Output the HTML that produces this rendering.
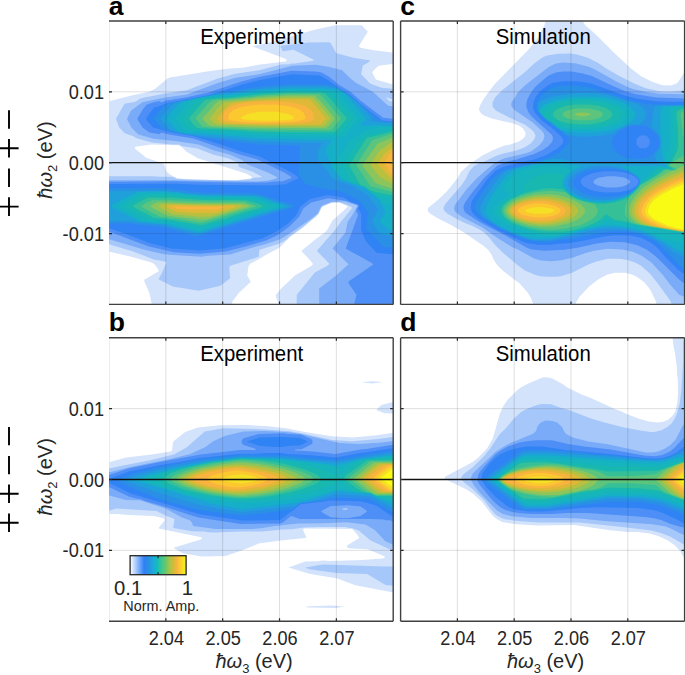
<!DOCTYPE html>
<html><head><meta charset="utf-8"><style>html,body{margin:0;padding:0;background:#fff;overflow:hidden}svg{display:block}</style></head><body>
<svg width="685" height="675" viewBox="0 0 685 675" font-family='"Liberation Sans", sans-serif'>
<rect width="685" height="675" fill="#fff"/>
<clipPath id="clipa"><rect x="109.00" y="21.00" width="284.20" height="283.40"/></clipPath>
<line x1="109.50" y1="21.00" x2="109.50" y2="304.40" stroke="#ececec" stroke-width="1"/>
<g clip-path="url(#clipa)"><path fill="#d3e3fc" fill-rule="evenodd" d="M91.2 1.5L91.2 154.8L90.8 172.5L89.8 179.8L89.5 221.8L89.8 239.5L90.8 247.2L91.5 319.2L275.2 319.2L292.8 319.5L296.2 320.2L319.8 320.5L419.8 320.5L420.5 319.8L420.8 125.5L420.2 90.5L419.5 87.2L418.8 1.2ZM100.2 251.8L109.8 251.8L130.2 256.5L152.5 262.8L154.8 264.5L158.5 269.8L158.5 271.5L144.2 279.8L144.5 281.8L149.5 293.2L152.5 308.2L152.5 310.5L151.8 311.2L100.2 311.5L99.2 310.8L98.8 264.8L99.2 252.8ZM347.5 206.2L347.5 206.8L343.5 210.8L332.5 220.5L327.5 229.5L324.8 232.5L316.2 238.8L301.8 250.5L301.8 251.5L311.2 261.5L312.8 263.5L312.8 264.5L310.8 266.2L294.8 275.5L280.2 289.5L275.5 295.5L280.8 309.5L280.2 311.2L232.8 311.5L231.5 310.5L231.2 309.2L232.5 301.2L238.5 293.2L250.8 281.8L247.2 275.5L248.5 266.2L250.2 263.8L259.8 258.8L265.2 255.2L279.5 247.8L289.8 237.2L301.5 228.8L316.2 216.5L318.8 213.8L321.2 208.5L322.8 206.5L330.8 203.2L334.8 202.5L338.8 202.5L346.2 205.2ZM134.8 147.5L136.8 146.5L151.5 144.5L178.8 145.2L182.5 147.8L186.5 151.8L197.8 158.2L246.5 173.8L250.8 176.2L252.2 177.5L250.2 178.5L235.8 180.2L194.8 179.5L176.8 178.2L170.5 174.8L166.5 171.8L164.5 165.2L163.5 163.8L146.2 157.8L134.8 148.5ZM401.2 84.8L400.2 86.2L399.2 86.2L376.5 79.8L375.2 78.5L372.2 72.2L375.2 68.8L378.8 65.8L399.2 63.2L400.5 63.5L401.5 65.2ZM98.8 101.5L98.8 9.8L99.8 8.8L400.2 8.8L401.5 10.2L401.5 51.8L399.8 53.5L373.8 50.2L360.5 47.8L359.2 46.8L359.2 45.5L367.8 31.8L361.8 25.2L335.5 25.2L316.5 29.2L293.2 35.8L280.2 40.2L252.2 46.2L285.2 58.8L286.8 60.2L286.8 60.8L285.5 61.5L258.2 64.8L242.8 67.8L227.2 68.8L208.5 71.2L169.8 77.5L167.2 78.8L155.2 88.8L149.2 91.8L132.5 95.2L101.5 103.2L99.8 103.2Z"/>
<path fill="#a6c7fa" fill-rule="evenodd" d="M419.2 91.5L412.8 90.2L401.5 89.8L381.5 87.8L372.5 84.5L369.8 83.2L361.2 74.2L362.8 65.5L368.2 62.5L370.5 60.5L353.5 57.8L337.2 53.5L335.8 52.5L330.8 43.2L329.5 42.2L308.8 42.5L281.2 45.8L280.5 46.5L282.2 50.2L283.2 51.2L293.5 49.8L312.8 59.2L313.8 60.2L313.2 60.8L294.2 63.5L290.8 63.5L289.2 64.2L281.2 64.5L259.2 70.2L235.2 73.8L217.8 78.5L186.8 90.2L166.5 93.2L143.2 97.8L140.2 98.8L135.5 101.8L124.5 103.8L116.2 118.5L116.2 119.5L119.2 127.5L124.8 133.2L133.2 136.2L137.2 138.5L152.2 142.5L171.8 144.5L179.2 144.5L180.5 145.5L184.2 146.5L197.5 148.5L212.2 154.2L228.5 158.5L237.2 162.2L238.2 163.5L238.5 166.8L252.5 171.8L261.8 176.5L261.2 177.2L253.8 177.8L250.5 179.2L236.8 180.5L184.8 179.5L176.8 178.8L174.5 177.5L171.2 176.8L160.5 176.8L152.5 176.2L91.5 176.2L90.8 176.8L90.2 180.5L89.8 188.8L89.8 223.2L90.8 242.8L91.5 243.5L108.8 243.8L110.5 244.8L132.5 251.2L153.8 259.5L165.2 261.5L166.5 262.5L161.8 273.2L158.8 278.5L158.8 279.5L172.8 286.5L198.8 290.8L220.5 285.8L230.2 278.2L229.2 267.8L230.2 265.8L258.8 256.8L259.2 250.8L259.8 249.8L279.8 243.5L286.2 239.8L289.2 236.8L303.5 226.5L315.8 216.2L318.5 213.5L321.5 207.2L322.5 206.2L331.5 202.5L339.5 202.2L351.2 206.8L351.8 207.5L351.8 208.5L340.5 222.2L334.8 230.2L316.8 250.8L329.2 263.5L329.2 264.2L326.5 266.2L314.8 272.5L296.8 294.8L296.5 309.8L297.2 319.2L346.8 320.2L419.8 320.2L420.8 135.5L419.8 118.5ZM386.2 97.8L387.2 97.5L394.5 100.5L394.8 101.2L389.5 101.2Z"/>
<path fill="#7aabf8" fill-rule="evenodd" d="M419.2 107.8L409.8 106.5L398.2 106.5L388.2 105.8L372.8 91.8L355.8 82.8L350.2 78.2L342.2 70.2L328.5 66.8L315.5 64.8L292.2 65.8L259.2 74.2L235.8 77.8L219.2 82.5L186.8 94.5L163.8 97.8L142.5 102.2L131.2 110.5L127.2 118.2L127.2 119.5L131.5 127.8L138.5 134.5L153.5 138.8L177.2 141.2L198.5 144.5L214.2 150.5L229.5 154.5L242.5 160.2L247.5 164.5L267.8 172.5L277.8 177.5L275.2 178.8L268.5 180.5L256.8 181.5L173.8 180.2L90.8 180.2L90.2 184.2L90.2 228.5L91.2 239.2L110.2 239.5L144.5 249.8L163.8 254.2L166.5 254.2L168.8 254.8L201.5 256.8L208.5 255.8L230.2 254.5L256.2 246.5L264.5 244.5L280.2 239.2L288.5 234.2L311.5 218.5L317.8 213.2L320.8 206.8L322.2 205.5L331.5 201.8L344.5 201.5L356.5 205.2L357.2 206.5L352.5 214.8L347.5 222.2L345.5 232.5L332.5 248.5L348.5 264.2L335.8 275.8L319.2 288.5L319.2 303.2L319.8 305.5L319.8 314.5L320.5 318.8L343.5 319.2L349.2 319.8L419.5 319.8L420.5 208.5L420.5 126.8L419.5 121.2Z"/>
<path fill="#4d8ff6" fill-rule="evenodd" d="M90.8 181.8L90.2 190.2L90.2 221.8L90.8 230.8L91.5 231.5L109.5 231.8L148.2 246.2L173.8 252.2L199.8 253.8L225.5 251.5L245.5 246.5L266.2 240.5L277.2 235.2L289.2 226.8L299.2 216.8L303.2 208.8L304.8 207.2L311.2 202.5L327.8 198.2L345.8 200.8L357.8 204.8L358.2 206.2L355.8 210.5L357.8 214.2L357.8 215.8L345.8 248.2L346.8 249.2L372.2 263.2L373.2 264.5L348.2 281.8L349.2 284.2L356.5 294.8L351.5 315.5L351.2 318.8L418.8 318.8L419.2 259.8L419.8 255.5L420.5 196.2L420.5 129.2L419.5 122.8L418.2 121.8L411.8 120.8L383.2 117.8L361.2 101.2L350.5 91.8L338.8 84.8L329.8 77.2L321.5 72.5L315.2 71.5L291.8 70.8L260.2 76.8L241.5 81.5L207.5 92.8L185.8 97.5L166.5 100.5L161.8 102.2L160.8 102.2L159.8 101.2L155.5 101.8L146.5 104.8L142.8 109.5L137.5 118.2L137.5 119.5L142.8 127.8L149.5 132.5L159.8 134.2L160.8 132.8L162.5 132.8L167.5 134.2L193.2 138.5L240.5 154.8L257.5 159.5L285.5 173.2L291.8 177.2L290.8 178.2L282.5 181.2L274.2 181.5L266.5 182.5L216.2 182.2L176.5 181.2Z"/>
<path fill="#2f83f4" fill-rule="evenodd" d="M419.8 125.2L418.2 124.2L382.2 120.5L361.5 104.8L350.2 94.8L338.5 87.8L327.2 79.5L319.8 75.5L292.2 74.2L261.2 79.8L243.5 84.2L208.2 95.2L166.2 103.2L161.2 105.5L153.8 107.8L146.2 118.2L146.8 120.2L153.2 127.5L170.8 132.2L194.2 136.2L200.5 138.5L210.8 141.2L241.8 151.8L259.5 156.5L287.8 170.5L296.5 175.8L298.5 177.8L297.5 178.8L285.5 184.2L268.8 185.5L197.5 184.8L176.5 183.8L91.8 184.2L91.2 184.5L90.5 189.5L90.5 222.5L91.2 228.2L109.8 228.5L126.5 234.2L150.2 243.2L171.5 248.5L199.8 250.5L225.2 248.2L262.5 238.2L276.5 231.5L288.2 223.2L296.2 215.2L300.5 206.5L309.8 199.2L326.2 195.2L329.2 195.2L343.5 197.5L351.5 202.2L358.8 204.8L359.2 205.8L357.8 208.2L360.5 212.2L361.2 214.2L361.2 230.2L365.5 240.8L376.5 252.8L392.2 254.2L418.2 255.2L419.2 254.8L419.8 249.8L420.5 137.8Z"/>
<path fill="#2a90e5" fill-rule="evenodd" d="M90.8 189.8L90.8 222.2L91.8 223.2L129.5 223.5L153.5 226.5L159.8 226.8L167.5 228.2L194.8 236.2L199.5 235.5L222.5 228.8L231.2 225.8L255.8 218.8L258.8 217.5L270.2 214.5L278.5 211.5L290.8 208.2L294.5 206.5L294.5 205.8L289.2 203.5L282.5 201.8L267.2 196.5L255.5 193.2L201.5 192.5L166.2 188.2L94.2 188.2L92.2 188.5ZM153.5 118.5L158.2 124.2L163.8 129.5L180.5 133.5L192.5 135.2L201.5 137.8L228.2 140.8L235.8 142.2L250.5 143.2L258.5 144.5L298.8 145.8L299.8 147.5L298.5 173.8L299.2 175.5L305.2 183.8L320.5 188.2L340.8 191.2L358.5 200.2L368.2 212.2L366.2 227.2L366.8 228.8L383.2 246.8L414.8 249.8L419.2 249.5L419.8 240.5L419.8 200.2L420.5 173.2L420.2 127.5L419.5 125.2L389.5 121.8L384.5 121.8L381.8 121.2L377.5 118.5L362.8 106.8L349.2 94.8L342.8 90.8L333.2 85.5L322.5 84.2L288.8 84.2L280.8 85.2L273.5 85.2L248.2 88.2L229.5 91.5L224.5 91.5L220.2 92.2L209.2 95.5L199.2 97.2L179.8 101.5L174.2 102.2L173.2 102.8L166.5 104.2L159.8 110.8Z"/>
<path fill="#1fa0da" fill-rule="evenodd" d="M91.5 220.8L130.2 221.2L136.8 222.5L162.2 224.8L196.5 233.5L199.2 233.5L204.2 232.5L218.2 227.8L287.2 207.5L289.8 206.2L288.2 205.2L275.8 201.5L266.8 198.2L260.2 196.2L255.8 195.5L203.8 194.8L185.5 193.2L180.2 192.2L172.8 191.8L167.5 190.8L92.2 191.5L91.5 191.8L91.2 200.5ZM160.5 118.5L166.5 125.8L171.2 130.5L179.5 132.8L193.8 135.2L255.5 141.2L305.8 142.8L321.2 142.8L322.2 143.5L317.8 150.8L317.8 156.5L318.5 160.8L325.2 168.5L332.5 178.8L352.2 185.8L368.2 195.5L377.8 209.2L377.5 210.8L372.5 220.5L372.5 221.8L378.5 231.8L380.5 233.5L413.5 240.8L417.5 241.5L419.2 241.2L419.5 208.5L420.2 195.8L420.2 129.5L419.8 126.8L418.8 125.5L371.5 121.2L370.8 119.8L371.8 118.5L369.8 115.8L358.2 103.5L348.5 95.2L337.2 88.2L323.5 86.5L287.8 86.5L284.2 87.2L277.2 87.2L255.5 89.2L229.2 93.2L223.2 93.2L213.5 94.5L209.5 95.8L200.8 97.2L174.5 102.8L169.2 108.2Z"/>
<path fill="#15b0c8" fill-rule="evenodd" d="M111.2 205.8L111.8 207.2L120.2 211.8L139.8 221.5L160.5 223.8L165.2 223.8L199.2 232.2L260.8 213.5L265.5 212.5L271.8 210.2L275.5 209.5L284.8 206.2L277.2 203.2L274.8 202.8L259.5 197.5L253.8 196.2L203.2 195.5L187.5 194.2L179.2 192.8L171.8 192.5L166.2 191.5L137.8 191.8L120.2 200.5ZM166.8 118.5L174.2 127.5L177.2 130.5L180.5 132.5L192.2 133.5L201.8 133.5L212.5 134.8L218.8 134.8L232.8 136.5L239.2 136.5L259.8 138.5L283.2 138.8L293.8 139.5L330.8 139.8L331.2 141.2L326.2 148.8L325.5 150.8L328.2 158.5L332.8 168.8L341.8 179.8L364.8 188.2L379.2 199.8L385.2 211.5L385.2 213.2L380.5 220.2L380.2 221.8L388.8 229.8L418.8 232.5L419.2 208.2L420.2 190.5L420.2 134.8L419.5 126.8L372.8 125.2L361.2 125.8L361.2 124.5L365.2 119.8L365.8 118.5L344.5 93.8L342.8 92.2L339.2 90.2L336.8 89.5L330.8 89.5L323.8 88.5L286.8 88.5L269.8 90.2L263.2 90.2L253.8 91.2L249.5 92.2L243.5 92.5L239.2 93.5L233.5 93.8L229.2 94.8L222.5 94.8L206.8 96.5L192.5 99.2L186.2 101.2L182.8 101.5L180.8 102.5L175.8 107.5Z"/>
<path fill="#16b4bd" fill-rule="evenodd" d="M117.5 206.2L120.8 208.5L142.8 220.2L151.8 221.5L156.8 221.5L167.5 222.8L182.8 226.5L189.5 227.5L199.2 230.2L277.8 206.5L277.8 205.8L252.5 197.5L203.5 196.8L166.5 193.5L144.8 193.5L139.2 194.2L120.8 203.8ZM349.8 140.2L339.5 155.8L334.2 167.2L334.5 168.8L343.2 179.5L349.2 181.5L352.2 183.2L364.5 187.2L374.8 195.5L379.5 198.5L382.2 202.8L392.2 205.2L396.8 205.2L399.5 205.8L417.5 206.2L419.2 205.5L420.2 183.2L420.2 141.2L419.8 128.8L419.2 127.2L382.2 126.8L365.2 130.2ZM358.8 118.2L337.2 93.2L333.8 91.5L323.8 90.5L287.5 90.5L260.5 92.2L249.8 93.8L232.5 95.5L230.2 96.2L210.2 97.2L199.5 98.2L193.5 99.5L190.2 100.8L186.2 104.8L175.2 117.5L174.8 118.8L179.8 125.2L183.8 129.2L187.5 131.2L204.2 131.5L207.5 132.2L228.8 133.2L232.5 133.8L238.5 133.8L241.8 134.5L263.8 135.8L342.8 136.8L344.5 135.8L358.5 119.5Z"/>
<path fill="#18b8b0" fill-rule="evenodd" d="M124.8 206.2L133.8 211.8L147.8 218.8L150.8 219.5L159.8 219.8L167.5 220.8L192.2 225.5L198.5 227.2L202.2 227.2L208.8 225.5L211.5 224.2L218.8 222.5L239.2 215.8L246.5 214.2L249.2 212.8L265.2 208.5L270.5 206.2L266.5 204.2L264.2 203.8L262.5 202.8L257.8 201.8L248.2 198.5L198.8 197.8L195.8 197.2L186.5 196.8L183.5 196.2L178.5 196.2L175.5 195.5L165.5 194.8L144.5 195.2L133.8 200.5ZM419.5 128.2L412.5 127.8L393.5 129.5L366.8 135.2L364.5 136.2L356.8 143.8L342.8 165.5L351.2 181.5L352.5 182.5L354.5 182.8L365.2 187.2L376.8 195.8L392.5 198.2L418.8 199.2L419.8 193.2L420.2 146.2ZM352.8 118.5L348.2 112.5L331.2 93.5L328.5 92.2L322.8 91.5L287.8 91.5L270.5 92.5L266.8 93.2L261.2 93.2L229.2 97.2L217.8 97.5L199.2 99.2L195.5 102.2L181.8 118.2L183.5 121.2L189.5 127.8L193.5 129.5L246.5 132.2L255.5 133.2L284.5 133.8L338.2 133.8L341.2 132.2Z"/>
<path fill="#35c098" fill-rule="evenodd" d="M132.8 206.2L135.5 208.2L153.8 217.8L173.8 220.2L179.2 221.5L191.8 223.2L198.8 224.8L203.2 224.8L221.5 219.2L226.2 218.2L234.2 215.2L257.8 208.5L263.5 206.2L257.2 203.5L245.8 200.2L198.8 199.8L171.8 197.8L147.5 197.8L135.5 204.2ZM419.2 129.5L418.2 129.2L393.2 131.2L366.5 138.2L349.5 164.8L349.5 165.8L359.5 183.8L361.2 185.2L365.2 186.5L370.5 190.5L376.8 192.2L392.5 195.2L418.8 196.2L419.8 189.8L419.8 135.5ZM346.8 118.5L329.8 98.2L324.8 93.5L320.8 92.5L287.5 92.5L260.8 94.2L230.5 97.8L219.8 98.2L206.8 99.5L204.5 100.2L188.8 118.5L193.2 124.2L196.5 127.5L201.2 128.5L232.8 129.8L257.2 131.5L289.5 132.2L333.5 132.2L336.5 130.8Z"/>
<path fill="#5cc47c" fill-rule="evenodd" d="M141.2 206.2L143.2 207.8L151.5 212.5L157.5 215.2L159.8 216.8L165.2 217.2L171.5 218.5L174.8 218.5L199.5 222.5L202.2 222.5L209.2 220.8L255.8 206.5L255.8 205.8L243.5 201.8L209.2 201.8L170.8 200.2L152.2 200.2L145.5 203.2ZM418.8 131.5L393.5 133.2L373.2 139.8L371.5 141.2L356.5 164.5L356.5 165.8L370.5 186.2L392.8 192.2L415.8 193.2L419.2 192.8L419.8 184.5L419.8 139.8ZM340.8 118.2L322.5 96.8L319.2 94.2L290.8 93.8L261.2 95.5L248.5 97.2L243.8 97.2L236.2 98.5L231.5 98.5L223.8 99.5L217.2 99.5L212.8 100.2L209.2 102.5L198.8 114.2L195.8 118.5L199.5 123.5L202.8 126.8L209.2 127.5L266.2 129.8L329.2 130.2L331.8 129.2L339.8 120.2Z"/>
<path fill="#8cc55c" fill-rule="evenodd" d="M150.2 206.2L153.5 208.5L166.8 215.5L183.5 217.8L189.8 218.2L191.8 218.8L195.2 218.8L197.2 219.5L206.8 219.5L249.8 206.5L249.8 205.8L243.2 203.5L192.5 203.2L167.8 202.2L157.8 202.2L152.5 204.5ZM418.8 135.2L392.8 137.2L378.5 143.2L376.8 144.8L362.5 164.8L362.8 166.2L375.8 183.2L393.5 189.2L418.5 190.2L419.2 189.5L419.8 179.5L419.8 144.8L419.5 137.5ZM334.8 118.2L322.5 103.5L314.5 95.5L287.2 95.5L258.2 97.2L248.8 98.5L237.8 99.2L235.2 99.8L219.2 100.8L214.5 104.2L210.2 109.8L203.8 116.5L202.8 118.8L203.8 120.5L209.2 125.5L213.5 126.2L257.8 127.8L325.8 128.2L330.2 124.5L334.2 119.8Z"/>
<path fill="#b8c040" fill-rule="evenodd" d="M158.8 205.8L158.8 206.5L166.5 211.2L173.2 214.2L199.2 216.8L210.8 216.5L237.8 208.5L243.5 206.2L239.2 204.5L193.2 204.5L163.2 203.8ZM419.2 138.8L416.2 138.5L395.2 140.8L391.5 142.2L379.8 150.5L370.5 164.2L370.8 165.8L380.5 177.5L393.2 184.2L418.8 185.8L419.8 172.8L419.8 152.5ZM330.8 118.5L317.5 102.5L312.2 97.5L286.8 97.5L251.8 99.5L249.2 100.2L224.8 102.2L222.2 103.8L216.8 109.5L209.8 118.5L214.2 123.5L219.5 124.8L271.8 126.2L322.8 126.2L325.2 125.2Z"/>
<path fill="#e0b838" fill-rule="evenodd" d="M166.8 205.8L167.8 207.5L176.5 211.8L197.2 213.2L216.5 212.8L221.8 210.8L231.2 208.5L236.5 206.2L232.2 205.5L198.8 205.5L172.5 204.8L168.2 205.2ZM419.2 143.8L415.2 143.5L393.2 146.2L384.5 153.8L377.8 163.2L377.5 164.5L393.2 180.2L418.8 181.2L419.5 178.5ZM325.5 118.2L313.5 103.8L309.5 99.8L308.2 99.2L283.8 99.2L247.5 101.2L231.2 103.2L224.8 108.8L217.5 118.2L217.5 118.8L221.2 122.8L222.5 123.5L262.5 124.8L309.8 124.8L320.2 124.5L322.8 122.2L325.5 118.8Z"/>
<path fill="#f8b43e" fill-rule="evenodd" d="M172.8 206.5L176.8 208.8L193.5 209.5L216.8 209.5L225.5 206.8ZM418.8 146.5L394.2 149.2L392.8 149.8L387.8 156.5L384.5 162.5L384.5 163.8L387.5 169.2L393.2 176.8L398.8 177.5L416.8 178.2L418.8 177.8L419.5 172.5L419.5 152.8ZM222.8 116.8L223.2 119.5L224.5 120.8L227.8 121.8L239.5 123.2L262.5 123.8L290.5 123.5L301.8 122.8L311.2 121.2L312.5 120.5L314.2 118.2L312.8 112.5L311.5 110.5L309.2 108.2L304.8 105.8L296.2 103.2L280.2 101.5L261.5 101.5L247.5 102.5L237.2 104.2L231.5 106.2L226.8 109.2L224.5 111.8Z"/>
<path fill="#fcc830" fill-rule="evenodd" d="M418.5 154.2L393.8 156.8L390.8 162.2L393.5 170.2L397.8 170.8L418.2 171.5ZM228.2 117.5L228.2 118.5L229.2 119.5L234.8 120.8L247.2 122.2L259.5 122.5L286.5 122.2L294.8 121.5L303.8 119.8L305.5 118.2L304.8 115.2L303.5 112.8L300.8 110.5L297.5 108.8L289.8 106.5L277.5 104.8L257.2 104.8L243.8 106.5L237.2 108.5L232.8 110.5L229.5 113.5Z"/>
<path fill="#f5e025" fill-rule="evenodd" d="M241.2 117.8L241.8 118.8L244.2 119.5L262.2 120.8L285.2 120.2L292.8 119.2L294.2 118.2L293.5 116.8L290.2 114.8L284.2 113.2L275.2 111.8L260.5 111.8L252.8 112.8L246.2 114.5L241.8 116.8Z"/></g>
<g stroke="#262626" stroke-opacity="0.15" stroke-width="1"><line x1="165.84" y1="21.00" x2="165.84" y2="304.40"/><line x1="222.68" y1="21.00" x2="222.68" y2="304.40"/><line x1="279.52" y1="21.00" x2="279.52" y2="304.40"/><line x1="336.36" y1="21.00" x2="336.36" y2="304.40"/><line x1="109.00" y1="91.85" x2="393.20" y2="91.85"/><line x1="109.00" y1="233.55" x2="393.20" y2="233.55"/></g>
<line x1="109.00" y1="162.70" x2="393.20" y2="162.70" stroke="#111" stroke-width="1.3"/>
<path d="M165.84 21.00V24.00M165.84 304.40V301.40M222.68 21.00V24.00M222.68 304.40V301.40M279.52 21.00V24.00M279.52 304.40V301.40M336.36 21.00V24.00M336.36 304.40V301.40M109.00 91.85H112.00M393.20 91.85H390.20M109.00 162.70H112.00M393.20 162.70H390.20M109.00 233.55H112.00M393.20 233.55H390.20" stroke="#262626" stroke-width="1.2" fill="none"/>
<path d="M109.00 21.00H393.20M109.00 304.40H393.20M393.20 21.00V304.40" stroke="#404040" stroke-width="1.4" fill="none"/>
<text transform="translate(251.70 44.40) scale(0.934 1)" font-size="21.8" text-anchor="middle" fill="#000">Experiment</text>
<text transform="translate(104.00 98.85) scale(0.886 1)" font-size="20.5" text-anchor="end" fill="#262626">0.01</text>
<text transform="translate(104.00 169.70) scale(0.886 1)" font-size="20.5" text-anchor="end" fill="#262626">0.00</text>
<text transform="translate(104.00 240.55) scale(0.886 1)" font-size="20.5" text-anchor="end" fill="#262626">-0.01</text>
<clipPath id="clipb"><rect x="109.00" y="337.80" width="284.20" height="283.40"/></clipPath>
<line x1="109.50" y1="337.80" x2="109.50" y2="621.20" stroke="#ececec" stroke-width="1"/>
<g clip-path="url(#clipb)"><path fill="#d3e3fc" fill-rule="evenodd" d="M344.2 606.6L332.2 605.6L309.2 606.3L304.8 607.0L308.5 607.6L336.2 608.0ZM100.8 462.0L99.8 472.3L99.8 495.6L100.5 513.3L101.2 514.0L117.2 514.0L128.5 515.0L153.8 516.0L164.2 518.6L164.8 520.3L158.5 528.0L158.8 528.6L201.2 537.3L202.2 538.3L200.8 539.6L174.2 547.6L174.2 548.3L182.5 553.3L201.5 556.6L225.5 556.0L242.2 550.3L258.5 543.6L282.8 540.3L305.5 538.0L306.2 537.6L306.2 537.0L303.2 530.3L303.2 529.3L304.5 528.6L352.2 529.0L356.8 534.0L359.2 537.6L358.5 538.6L347.5 545.3L346.8 546.3L347.8 548.0L351.8 548.6L367.8 549.3L384.2 556.3L384.8 557.0L384.5 558.0L382.8 558.6L362.2 560.0L330.5 561.0L322.5 560.6L317.5 561.3L305.2 561.6L288.5 567.6L310.2 574.0L336.5 578.3L355.5 585.3L392.2 592.3L418.8 599.3L419.5 599.0L419.5 592.0L420.2 588.6L420.2 567.0L419.5 563.6L419.5 554.0L420.5 546.3L420.8 451.6L420.5 440.3L419.5 432.0L391.5 433.0L376.8 435.3L352.5 437.6L331.8 436.3L306.5 432.3L287.5 428.6L268.2 426.3L245.5 425.0L219.5 425.3L197.8 427.6L185.2 432.0L173.5 441.3L172.8 443.3L172.2 450.3L170.8 451.6L151.8 454.6L126.2 457.6L109.8 462.0ZM419.2 401.3L392.5 402.3L381.2 405.0L376.2 410.0L384.5 413.3L419.2 414.3ZM361.2 382.6L372.8 383.6L382.5 382.0L371.2 381.3Z"/>
<path fill="#a6c7fa" fill-rule="evenodd" d="M305.5 567.6L307.2 568.6L310.8 569.6L336.5 573.0L367.2 574.0L385.5 585.0L414.8 587.6L419.2 587.3L419.2 568.0L418.5 567.6L403.8 566.6L383.8 566.6L324.5 564.6L319.5 565.0ZM100.8 469.0L100.2 473.6L100.2 489.0L100.8 505.6L101.5 510.6L109.5 510.6L116.5 508.6L156.5 511.0L166.5 516.0L173.5 518.6L174.5 519.6L173.2 527.0L173.5 528.0L192.2 531.3L204.8 531.6L207.5 532.3L213.8 532.6L241.5 531.6L262.2 531.6L282.2 529.6L291.8 529.3L303.8 527.6L318.2 527.0L345.5 527.0L349.2 528.0L351.5 528.0L358.8 530.6L370.2 540.3L389.5 549.3L405.5 550.3L418.8 550.3L419.5 549.6L420.8 494.3L420.8 462.3L420.2 441.3L419.5 437.0L418.8 436.3L391.5 437.3L378.5 439.0L351.8 441.3L332.2 440.0L302.8 433.6L287.8 431.0L256.5 429.0L223.2 428.3L204.8 431.6L186.5 447.6L173.8 454.6L150.2 460.3L120.5 466.0L110.8 468.3Z"/>
<path fill="#7aabf8" fill-rule="evenodd" d="M100.8 473.0L100.2 482.3L101.5 495.3L109.5 495.6L125.8 500.0L139.8 500.3L165.5 508.6L181.5 517.3L190.2 520.6L191.5 522.0L193.2 526.0L215.8 529.0L251.5 529.0L260.8 528.3L275.2 526.0L281.2 525.6L283.2 525.0L298.5 523.6L324.2 523.3L346.2 522.3L365.5 524.6L374.8 530.0L385.2 541.0L393.5 545.0L418.2 546.0L419.2 545.3L419.2 528.0L420.2 518.3L420.5 502.6L420.5 455.0L419.5 441.0L418.8 440.3L391.8 441.3L381.5 442.6L359.2 444.0L339.5 443.0L315.2 437.6L301.2 434.0L289.5 432.3L264.8 431.0L243.2 431.6L224.5 436.0L212.8 441.6L205.5 447.0L189.5 454.3L165.5 460.0L130.5 467.0L110.8 472.0L101.8 472.3ZM341.8 509.0L344.2 508.0L346.2 508.0L348.5 509.0L345.5 510.3L342.5 509.6Z"/>
<path fill="#4d8ff6" fill-rule="evenodd" d="M419.5 444.6L418.8 444.0L391.2 445.0L366.5 449.0L361.8 449.3L335.5 454.0L312.8 451.6L295.5 450.6L294.8 450.0L295.2 449.6L301.5 449.3L311.2 444.6L312.5 443.0L312.5 440.6L311.2 439.0L300.8 434.6L287.5 434.0L283.5 433.3L258.8 434.0L244.5 438.0L243.2 438.6L241.5 441.0L241.8 443.3L243.5 445.0L254.8 448.6L255.8 449.3L255.5 450.0L239.8 450.0L200.5 454.6L160.2 462.0L129.2 468.3L108.8 475.0L101.8 476.3L100.8 477.3L100.5 482.6L100.8 485.0L101.5 486.0L108.8 487.0L128.8 496.6L136.2 498.6L140.8 499.3L146.8 501.6L164.2 506.6L198.2 517.6L240.8 524.0L280.5 523.6L283.2 522.3L290.8 516.3L292.5 516.3L299.5 519.0L370.2 519.0L383.8 519.6L385.8 520.3L390.2 520.3L391.8 521.0L418.8 521.6L419.5 521.0L420.5 496.3L420.5 460.3ZM321.2 511.0L330.8 506.0L348.2 505.3L360.5 506.6L365.8 510.0L367.2 511.6L360.5 516.0L348.5 518.0L343.2 518.3L330.8 517.3L321.8 512.3Z"/>
<path fill="#2f83f4" fill-rule="evenodd" d="M419.8 513.3L420.5 493.6L420.5 463.0L419.5 448.0L418.8 447.3L392.2 448.3L357.5 453.6L336.5 457.6L307.5 455.0L288.2 454.0L282.2 453.0L264.5 453.0L260.5 453.6L236.8 454.0L198.2 458.3L179.5 462.0L160.5 465.0L129.8 471.3L110.2 478.3L101.8 480.3L101.2 481.0L102.2 482.3L109.8 483.3L130.2 493.3L199.8 514.3L242.5 520.6L280.2 520.0L290.5 512.0L293.8 510.0L300.5 504.3L324.8 501.6L329.2 500.6L360.2 501.3L368.5 503.3L376.2 505.6L393.5 517.3L418.2 518.3L419.2 518.0ZM246.8 441.6L259.5 446.0L275.2 447.0L282.2 447.0L288.2 446.0L300.5 445.3L307.8 441.6L300.2 438.0L283.2 437.0L259.8 437.6Z"/>
<path fill="#2a90e5" fill-rule="evenodd" d="M419.8 508.6L419.8 499.3L420.5 491.6L420.5 465.0L419.8 452.6L419.2 450.3L391.8 451.3L363.2 455.6L336.8 460.3L308.8 458.3L282.2 455.6L240.8 455.3L200.2 459.6L159.8 467.3L134.8 473.3L117.8 480.0L118.2 481.0L134.8 489.3L161.5 499.6L200.2 510.3L240.8 515.6L266.5 513.0L290.5 509.6L293.2 509.0L300.5 503.3L324.2 500.6L335.8 497.3L369.8 499.3L393.2 512.3L418.5 513.3L419.2 513.0Z"/>
<path fill="#1fa0da" fill-rule="evenodd" d="M419.5 453.0L418.8 452.3L392.2 453.3L363.5 457.6L337.5 462.3L308.5 460.3L281.8 457.6L240.5 457.0L206.5 461.0L169.8 467.6L140.2 474.6L130.2 478.3L126.2 480.3L129.8 482.3L139.8 486.3L170.8 496.6L203.5 506.0L241.2 512.3L295.2 506.0L300.2 503.0L311.2 501.6L335.8 494.3L370.2 496.3L393.2 508.3L418.5 509.3L419.2 509.0L420.5 489.0L420.5 467.0Z"/>
<path fill="#15b0c8" fill-rule="evenodd" d="M420.2 462.0L419.5 455.3L418.8 454.3L397.2 455.0L385.2 456.0L378.5 457.3L360.2 459.6L336.8 465.3L314.8 462.3L282.2 459.0L239.2 458.0L209.8 461.6L179.8 467.6L149.2 475.0L136.5 479.3L134.8 480.3L194.8 498.3L209.8 503.3L242.2 509.0L297.8 502.6L309.8 499.3L335.5 491.0L342.5 491.0L347.5 492.0L370.2 494.0L375.8 497.0L392.8 504.3L418.2 505.3L419.2 505.0L420.2 494.6Z"/>
<path fill="#16b4bd" fill-rule="evenodd" d="M420.2 463.6L419.5 457.3L418.8 456.3L385.8 456.6L361.5 460.0L349.5 463.0L340.2 469.0L323.2 464.6L298.2 461.3L273.8 459.0L240.5 458.3L210.8 462.0L179.5 468.3L148.5 476.3L144.2 478.0L143.2 479.0L143.2 480.0L145.8 482.0L149.5 483.6L189.2 495.6L203.2 498.0L206.5 499.0L235.2 502.6L254.2 503.3L264.8 502.3L271.2 502.3L281.8 500.6L288.2 500.3L315.2 495.6L328.5 492.3L335.8 489.6L339.5 489.6L341.2 489.0L342.8 489.0L345.8 490.6L352.5 491.3L353.8 492.0L370.5 493.6L381.2 498.6L386.8 500.3L415.8 500.6L418.8 500.3L419.5 499.3L419.8 496.6Z"/>
<path fill="#18b8b0" fill-rule="evenodd" d="M420.2 464.6L419.5 459.3L418.8 458.3L379.5 458.3L366.5 459.6L360.2 461.0L358.2 462.0L337.8 476.6L328.5 472.0L316.8 468.0L291.5 462.0L273.8 459.6L240.5 458.6L210.8 462.3L180.2 468.6L163.5 473.0L156.5 476.3L153.8 479.0L153.8 479.6L156.8 482.3L162.8 485.3L184.8 492.3L210.8 497.3L236.2 500.3L251.2 500.6L265.5 499.6L294.2 495.3L298.8 494.0L305.8 493.0L310.5 491.3L317.2 490.0L331.5 485.0L335.8 483.0L338.8 480.6L354.5 491.3L370.5 493.3L374.8 495.6L381.2 498.0L418.8 498.3L419.5 497.3L420.2 492.0Z"/>
<path fill="#35c098" fill-rule="evenodd" d="M343.5 478.3L345.5 480.3L361.5 491.6L370.2 493.0L376.5 496.0L419.2 496.3L419.8 494.3L420.2 465.3L419.2 460.3L368.5 460.3L365.8 461.3L347.8 474.3ZM163.5 479.3L165.5 481.6L170.2 484.3L182.5 489.0L191.2 491.3L211.8 495.6L236.5 498.6L248.8 498.6L251.8 498.0L256.2 498.0L271.5 496.0L290.2 492.3L301.5 489.3L312.5 485.3L317.5 483.0L321.5 479.6L321.5 479.0L318.5 476.0L315.5 474.0L304.2 469.3L285.5 464.3L275.5 462.3L260.5 460.0L241.5 459.0L211.8 462.6L196.5 465.6L180.5 469.6L171.2 473.3L165.8 476.3Z"/>
<path fill="#5cc47c" fill-rule="evenodd" d="M348.8 478.0L348.8 478.6L350.2 480.0L353.2 481.6L366.2 491.6L368.8 492.6L370.5 492.6L376.2 495.3L419.2 495.3L420.2 489.6L420.2 466.3L419.2 461.3L371.8 461.3L369.2 462.3ZM170.5 479.3L173.5 482.3L181.2 486.0L199.2 491.3L212.2 494.0L227.8 496.3L243.2 497.3L256.8 496.3L272.5 494.0L288.8 490.3L302.8 486.0L310.8 482.3L313.5 479.6L313.5 478.6L310.8 476.0L306.2 473.6L299.5 471.0L287.5 467.3L272.5 464.0L256.8 461.6L245.5 460.6L239.2 460.6L230.5 461.3L214.2 463.6L195.5 467.6L186.5 470.3L184.2 471.6L178.8 473.3L172.5 476.6Z"/>
<path fill="#8cc55c" fill-rule="evenodd" d="M176.5 479.3L179.5 482.3L184.8 485.0L196.2 488.6L211.8 492.3L236.5 495.6L245.5 495.6L252.2 494.6L255.8 494.6L271.8 492.0L276.2 490.6L278.2 490.6L283.2 489.0L285.8 488.6L297.5 484.6L301.5 482.6L305.2 479.6L304.8 478.3L303.8 477.3L294.8 472.6L285.8 469.6L277.8 467.6L272.8 467.0L270.2 466.0L258.2 464.0L243.8 462.6L238.2 462.6L224.2 464.0L204.2 467.6L196.2 469.6L182.8 474.3L177.8 477.3ZM353.8 478.0L353.8 478.6L368.5 490.0L373.8 493.6L375.8 494.3L419.2 494.3L419.5 493.6L419.8 464.3L419.2 462.3L374.2 462.6L366.8 467.6L364.5 470.0Z"/>
<path fill="#b8c040" fill-rule="evenodd" d="M181.5 479.3L184.8 482.3L189.8 484.6L205.8 489.3L227.5 493.0L234.8 493.6L243.5 493.6L258.2 492.0L272.5 489.3L288.2 484.6L294.5 481.6L296.5 479.6L296.5 478.6L294.8 477.0L282.2 471.6L273.2 469.6L270.8 468.6L252.8 465.6L236.8 464.6L220.5 466.3L200.8 470.3L187.2 475.0L182.5 477.6ZM358.8 478.0L358.8 478.6L375.8 491.6L379.2 493.3L419.2 493.3L419.8 491.3L419.8 465.0L419.2 463.3L378.8 463.3L375.5 465.0Z"/>
<path fill="#e0b838" fill-rule="evenodd" d="M186.5 479.3L191.5 483.0L200.2 486.0L204.5 486.6L206.5 487.6L215.5 489.0L220.5 490.3L233.5 491.6L245.8 491.3L250.8 490.3L253.8 490.3L258.8 489.0L263.5 488.6L281.2 483.6L283.5 482.6L287.5 479.6L287.2 478.3L284.8 476.6L277.5 473.3L255.5 468.3L239.5 466.6L223.8 467.6L203.2 471.6L192.2 475.3L187.8 477.6ZM362.8 478.0L362.8 478.6L366.5 481.6L373.8 486.6L378.5 490.6L382.5 492.3L419.2 492.3L419.8 490.6L419.8 465.6L418.8 464.0L388.8 464.0L380.5 464.6L375.5 468.0Z"/>
<path fill="#f8b43e" fill-rule="evenodd" d="M191.8 479.3L193.2 480.6L196.8 482.3L208.2 486.0L211.8 486.3L220.2 488.3L231.5 489.6L240.5 489.6L262.5 486.3L275.2 482.3L279.5 479.6L279.5 479.0L278.2 477.6L275.2 476.0L263.8 472.3L260.2 472.0L251.5 470.0L240.5 468.6L231.5 468.6L220.5 470.0L208.5 472.3L196.8 476.0L193.5 477.6ZM367.8 478.0L368.8 479.6L385.2 491.3L419.5 491.3L419.8 466.3L419.2 464.6L385.8 465.0L381.5 467.3L372.2 474.6L370.2 475.6Z"/>
<path fill="#fcc830" fill-rule="evenodd" d="M206.8 478.6L206.8 479.6L207.8 480.6L215.8 484.0L227.5 486.6L233.5 487.3L241.2 487.3L253.8 485.3L262.8 482.6L266.5 480.6L267.8 479.3L266.5 477.6L264.2 476.3L256.8 473.6L255.2 473.6L251.2 472.3L239.2 470.6L235.2 470.6L223.5 472.3L222.5 473.0L216.8 474.0L212.2 475.6ZM372.8 478.0L373.8 479.6L386.2 488.6L390.2 491.0L418.5 491.3L419.5 490.6L419.2 465.3L389.5 465.6L386.2 467.6Z"/>
<path fill="#f5e025" fill-rule="evenodd" d="M221.5 479.0L222.5 480.0L228.5 482.0L240.2 483.6L251.8 482.0L258.2 480.0L258.8 479.3L258.2 478.3L254.8 477.0L248.5 475.3L241.5 474.3L232.2 475.3L225.5 477.0ZM376.8 478.0L380.2 481.3L389.8 488.6L393.2 490.3L418.8 490.6L419.5 490.0L419.2 465.6L393.2 466.0L389.2 468.3Z"/>
<path fill="#f9fb15" fill-rule="evenodd" d="M381.2 478.0L381.2 478.6L387.5 483.6L389.5 484.6L393.8 488.3L396.5 489.6L418.8 489.6L419.2 489.0L418.8 466.3L396.8 466.3L393.5 468.3Z"/></g>
<g stroke="#262626" stroke-opacity="0.15" stroke-width="1"><line x1="165.84" y1="337.80" x2="165.84" y2="621.20"/><line x1="222.68" y1="337.80" x2="222.68" y2="621.20"/><line x1="279.52" y1="337.80" x2="279.52" y2="621.20"/><line x1="336.36" y1="337.80" x2="336.36" y2="621.20"/><line x1="109.00" y1="408.65" x2="393.20" y2="408.65"/><line x1="109.00" y1="550.35" x2="393.20" y2="550.35"/></g>
<line x1="109.00" y1="479.50" x2="393.20" y2="479.50" stroke="#111" stroke-width="1.3"/>
<path d="M165.84 337.80V340.80M165.84 621.20V618.20M222.68 337.80V340.80M222.68 621.20V618.20M279.52 337.80V340.80M279.52 621.20V618.20M336.36 337.80V340.80M336.36 621.20V618.20M109.00 408.65H112.00M393.20 408.65H390.20M109.00 479.50H112.00M393.20 479.50H390.20M109.00 550.35H112.00M393.20 550.35H390.20" stroke="#262626" stroke-width="1.2" fill="none"/>
<path d="M109.00 337.80H393.20M109.00 621.20H393.20M393.20 337.80V621.20" stroke="#404040" stroke-width="1.4" fill="none"/>
<text transform="translate(251.70 361.20) scale(0.934 1)" font-size="21.8" text-anchor="middle" fill="#000">Experiment</text>
<text transform="translate(104.00 415.65) scale(0.886 1)" font-size="20.5" text-anchor="end" fill="#262626">0.01</text>
<text transform="translate(104.00 486.50) scale(0.886 1)" font-size="20.5" text-anchor="end" fill="#262626">0.00</text>
<text transform="translate(104.00 557.35) scale(0.886 1)" font-size="20.5" text-anchor="end" fill="#262626">-0.01</text>
<text transform="translate(166.34 644.90) scale(0.886 1)" font-size="20.5" text-anchor="middle" fill="#262626">2.04</text>
<text transform="translate(223.18 644.90) scale(0.886 1)" font-size="20.5" text-anchor="middle" fill="#262626">2.05</text>
<text transform="translate(280.02 644.90) scale(0.886 1)" font-size="20.5" text-anchor="middle" fill="#262626">2.06</text>
<text transform="translate(336.86 644.90) scale(0.886 1)" font-size="20.5" text-anchor="middle" fill="#262626">2.07</text>
<clipPath id="clipc"><rect x="400.60" y="21.00" width="284.00" height="283.40"/></clipPath>
<g clip-path="url(#clipc)"><path fill="#d3e3fc" fill-rule="evenodd" d="M552.8 2.8L549.4 4.8L547.1 8.5L546.8 16.5L544.4 25.2L539.8 34.8L536.4 39.8L528.4 49.8L494.1 84.8L484.1 98.2L480.4 104.8L479.1 108.5L479.1 110.5L481.4 113.8L484.4 115.8L492.8 118.8L512.4 123.2L519.4 125.8L523.1 128.8L525.4 132.5L525.4 135.5L524.8 136.8L522.4 139.2L518.8 141.5L511.1 144.2L503.8 145.8L492.8 150.2L482.8 155.2L469.4 164.2L461.1 171.8L457.1 178.8L446.1 192.2L438.4 199.5L428.4 207.8L427.8 208.8L427.8 211.2L430.4 213.8L438.1 218.5L450.1 224.5L462.8 231.8L483.1 245.5L488.1 249.8L491.4 254.5L494.1 260.5L497.8 265.8L503.8 271.5L519.8 283.5L528.1 293.2L531.1 298.2L534.1 306.5L535.4 313.5L535.8 320.2L537.8 323.5L542.8 327.2L549.8 328.8L560.1 328.8L566.8 327.2L571.1 324.5L573.1 320.5L573.1 314.2L574.4 307.5L576.1 302.5L579.4 296.8L589.4 286.2L598.1 279.5L606.8 274.8L614.8 272.8L625.1 272.8L632.8 274.8L638.4 277.8L644.4 282.5L648.4 287.2L650.8 290.8L655.8 301.2L657.4 307.8L658.1 320.2L661.4 324.8L667.8 327.8L676.1 329.5L690.1 330.2L691.8 328.2L700.1 313.8L707.1 279.8L710.4 234.8L710.8 175.5L708.4 118.2L704.8 86.2L700.4 71.2L699.4 69.8L693.1 69.8L686.4 71.2L683.8 73.2L678.1 82.2L675.8 83.8L671.1 85.5L662.4 85.2L652.1 81.8L641.1 76.2L630.1 67.8L614.1 52.8L596.1 34.8L584.8 24.8L581.1 17.8L580.4 14.2L580.4 8.5L578.4 4.8L574.8 2.8L568.8 1.5L559.1 1.5Z"/>
<path fill="#a6c7fa" fill-rule="evenodd" d="M542.8 57.2L535.1 62.8L524.8 72.2L502.1 90.2L495.1 97.2L492.4 102.8L492.8 107.2L496.1 110.8L509.8 117.8L525.1 124.8L531.4 129.5L533.8 131.8L535.4 135.2L535.4 136.5L534.1 139.5L530.4 143.8L523.8 147.8L515.4 150.8L503.4 153.5L496.4 155.8L482.8 162.2L478.8 163.5L473.8 166.2L469.4 171.2L465.4 179.5L461.8 184.8L445.1 204.2L443.4 207.8L444.1 210.5L447.1 213.5L455.8 218.5L463.8 222.5L473.1 226.2L480.8 230.2L484.4 232.8L489.4 237.8L493.8 243.5L502.4 252.2L516.8 264.5L524.8 270.5L534.8 274.8L540.1 276.2L547.4 276.8L555.8 276.8L560.8 276.2L572.1 272.8L588.4 264.5L596.4 261.5L607.8 258.8L619.8 258.8L628.4 260.2L634.4 262.2L640.8 265.5L649.8 273.5L658.8 284.8L670.1 300.5L672.1 304.8L673.1 311.8L673.4 320.8L675.1 324.2L677.4 326.2L680.8 327.8L686.1 328.8L689.4 328.8L698.8 313.8L705.4 285.8L708.1 262.5L710.1 233.5L710.4 176.2L708.4 134.2L704.4 105.5L698.1 90.2L697.4 89.5L692.1 89.5L671.1 91.5L663.8 91.5L657.1 90.8L645.8 88.2L634.8 83.8L619.8 76.2L605.8 68.2L597.8 62.8L587.8 57.8L576.8 54.5L570.8 53.5L558.1 53.8L547.1 55.5Z"/>
<path fill="#7aabf8" fill-rule="evenodd" d="M548.4 67.2L525.1 85.2L517.4 92.8L515.8 96.5L512.1 101.2L511.1 104.2L511.8 106.8L514.8 110.2L532.8 122.5L542.4 131.5L543.8 133.5L544.4 136.2L543.1 140.8L538.8 145.8L530.8 151.5L525.8 153.2L503.8 158.5L497.8 161.2L490.4 166.2L476.8 178.2L466.4 189.5L455.4 204.2L454.1 207.5L454.1 209.5L455.1 211.8L461.4 216.5L482.4 227.5L497.1 237.8L512.4 247.2L517.8 249.5L534.1 258.5L541.1 260.5L551.4 261.2L561.4 260.2L573.1 257.5L584.1 253.5L594.1 250.8L607.1 248.8L622.4 249.5L632.8 251.8L641.8 255.8L651.4 262.5L663.1 275.2L670.1 284.5L679.1 294.8L685.8 297.2L698.8 297.2L700.4 294.5L704.4 284.8L706.4 272.8L709.4 238.8L710.1 213.8L710.1 176.2L708.1 136.2L704.8 119.2L701.1 106.2L695.8 98.2L692.4 94.5L659.1 93.8L645.1 91.8L633.8 89.2L628.8 87.5L616.4 81.5L595.4 69.8L588.8 66.8L574.8 63.2L562.8 62.5L555.1 63.8Z"/>
<path fill="#4d8ff6" fill-rule="evenodd" d="M548.1 75.8L538.1 84.2L534.4 87.8L530.4 93.5L527.4 99.2L526.4 103.2L526.4 107.2L528.4 112.2L531.8 116.8L551.8 134.8L552.8 136.8L552.8 140.2L551.4 142.8L548.1 146.2L543.4 149.5L534.8 153.8L515.4 159.8L508.1 161.2L497.1 165.8L483.8 178.2L469.8 195.5L465.1 202.5L463.4 206.5L463.8 209.8L465.1 212.2L466.8 213.8L480.4 222.5L505.8 235.8L526.4 247.5L530.4 249.2L533.8 249.8L544.4 250.8L564.4 249.8L577.4 247.8L596.8 243.5L610.4 241.8L624.4 242.2L637.4 245.2L646.4 249.5L651.8 253.2L657.8 258.2L677.8 278.2L682.4 282.2L687.1 283.8L700.4 283.8L705.1 272.8L706.8 263.5L708.4 247.8L709.4 228.2L709.4 168.5L707.4 134.5L702.1 112.5L699.4 107.5L694.4 100.8L692.1 98.8L656.4 97.5L636.1 94.2L625.4 91.2L612.4 85.8L591.4 75.8L581.4 73.2L571.4 71.5L563.1 71.5L555.8 72.5ZM593.1 181.8L595.1 179.5L598.4 177.8L607.8 176.2L615.4 176.2L623.8 177.5L628.8 179.8L629.8 180.8L630.1 182.2L627.4 184.8L622.8 186.5L616.4 187.5L606.8 187.5L597.4 185.5L594.4 183.8Z"/>
<path fill="#2f83f4" fill-rule="evenodd" d="M540.4 90.8L536.1 96.2L534.1 100.5L533.1 104.2L533.1 108.2L533.8 110.5L535.4 113.5L541.8 120.5L550.4 126.8L561.1 136.2L563.4 140.5L563.1 142.5L561.8 144.5L557.1 148.8L545.4 155.5L534.8 159.2L504.1 166.5L495.8 170.5L487.1 179.2L472.4 200.2L471.1 203.5L470.8 208.2L471.4 210.8L473.4 213.8L476.4 216.8L481.4 220.5L497.8 230.2L520.8 240.8L527.1 243.2L538.1 244.8L550.8 244.8L557.4 243.8L568.1 243.2L579.1 241.5L605.4 236.2L615.1 235.2L629.4 235.5L640.8 237.8L650.1 242.2L656.4 246.8L666.8 258.5L677.8 269.5L682.1 272.8L686.1 274.2L692.4 274.8L697.4 274.8L700.8 274.2L705.1 264.2L708.1 242.8L709.1 214.2L708.8 168.2L706.4 133.2L701.1 113.2L693.4 103.2L691.8 102.2L686.8 101.8L668.1 101.8L655.4 101.2L636.4 98.5L625.4 95.8L591.8 83.8L586.4 82.5L575.8 81.2L563.1 81.2L553.1 82.8L548.1 85.2ZM580.8 180.5L581.8 178.8L584.1 176.8L592.1 173.2L603.4 171.2L615.8 171.2L626.4 172.8L633.4 175.8L637.8 179.2L638.4 180.5L638.4 182.8L637.4 184.8L635.4 186.8L628.8 190.2L618.8 192.2L605.8 192.5L595.1 191.2L589.8 189.5L583.4 186.2L580.8 183.2ZM640.4 135.5L645.8 135.5L647.4 136.5L649.4 139.2L650.1 141.5L649.4 144.5L648.4 146.2L645.8 148.2L640.4 148.2L637.8 146.2L636.4 143.8L636.4 139.8L637.1 138.5Z"/>
<path fill="#2a90e5" fill-rule="evenodd" d="M542.4 94.5L539.4 98.2L536.8 103.2L536.4 107.5L537.8 111.5L543.4 118.2L551.8 124.2L555.4 127.5L560.8 131.2L564.4 134.8L566.8 135.8L568.8 137.8L569.4 139.5L569.4 141.5L568.4 143.8L559.4 152.5L549.8 157.5L537.4 161.8L506.8 169.2L497.1 174.2L491.4 179.8L476.4 201.5L475.1 204.8L475.1 208.5L477.4 212.8L482.4 217.5L497.8 227.2L508.4 232.5L527.1 239.8L532.1 240.8L538.4 241.5L549.8 241.5L556.8 240.2L572.8 238.5L604.8 232.2L614.8 231.2L628.1 231.5L641.1 234.2L646.4 236.2L656.4 241.8L663.1 247.8L668.1 253.8L680.1 265.8L683.4 268.5L687.8 269.8L697.8 270.2L701.8 262.5L702.4 258.5L703.4 256.2L705.8 241.5L706.4 222.2L707.4 214.2L707.4 183.5L706.1 176.8L706.1 163.2L706.8 159.5L704.4 133.5L699.4 115.2L698.4 113.2L693.4 107.2L691.1 105.2L687.4 104.8L660.8 104.8L646.8 104.2L625.1 99.2L613.1 94.8L605.4 92.8L589.4 87.5L577.4 85.8L562.4 85.8L555.1 86.8L550.4 88.8ZM573.1 183.8L573.1 181.5L574.1 179.2L577.1 175.8L584.4 171.8L588.4 170.5L600.4 168.5L612.1 168.5L623.8 170.5L632.4 174.2L636.4 176.8L639.4 180.5L639.4 182.5L637.8 185.8L631.8 191.5L623.8 194.8L611.4 196.8L597.4 196.5L588.4 194.8L584.4 193.5L577.1 189.5L574.8 187.2ZM613.8 136.5L620.1 130.5L626.1 127.5L633.4 125.8L643.8 125.8L647.4 126.8L649.8 128.2L657.1 134.8L658.8 138.2L659.4 143.5L658.4 147.2L657.1 149.5L652.1 154.8L649.8 156.5L646.8 157.8L642.1 158.8L631.1 158.8L626.4 157.8L619.4 154.5L614.8 150.2L613.1 147.5L612.1 143.2L612.4 139.8Z"/>
<path fill="#1fa0da" fill-rule="evenodd" d="M698.8 114.8L691.1 105.8L663.1 105.5L656.4 105.8L654.4 106.8L652.4 118.2L652.1 127.2L652.4 128.2L658.1 133.8L659.8 137.2L660.4 140.2L660.4 144.8L659.8 147.5L658.1 150.8L654.8 154.8L655.1 157.2L657.1 161.8L657.1 163.2L656.1 163.8L633.4 162.8L610.1 162.8L600.1 163.5L597.8 162.8L577.4 161.8L569.4 160.8L562.8 159.2L553.4 158.8L546.4 159.8L536.8 163.2L522.1 166.2L507.1 170.5L504.1 172.5L498.4 178.2L487.8 193.2L481.4 204.5L480.4 207.5L480.8 213.2L483.8 216.8L496.1 225.2L501.4 228.2L513.8 233.8L528.8 239.2L539.1 240.5L550.1 240.2L571.8 235.8L583.8 232.2L594.8 229.8L602.1 228.8L619.4 228.8L625.8 229.5L642.4 233.2L652.1 237.2L663.1 243.8L674.1 252.2L679.1 254.8L691.1 258.8L697.8 259.8L699.1 259.5L702.1 256.2L703.4 251.5L704.8 243.2L705.1 231.8L705.8 229.5L705.8 221.8L706.8 218.2L707.1 213.5L707.1 184.2L703.8 175.2L698.8 170.5L703.8 166.5L706.1 161.5L704.1 134.5ZM568.1 185.2L568.1 181.2L569.4 178.2L574.8 173.2L579.8 170.5L585.1 168.5L587.1 168.5L592.1 166.8L599.4 165.8L609.4 166.2L619.8 168.2L626.1 170.2L631.4 172.8L638.8 178.2L639.8 179.8L639.8 182.8L637.4 186.8L630.1 193.5L625.1 196.2L620.4 197.8L609.4 199.8L597.1 199.8L586.8 198.2L582.4 196.8L577.1 194.5L571.8 190.8L569.1 187.5ZM537.8 105.5L538.4 111.2L540.1 113.5L544.8 118.5L552.8 124.2L556.1 127.2L562.8 131.5L565.8 134.2L570.8 135.5L579.4 136.5L591.8 136.8L594.8 136.2L602.4 135.8L612.4 133.8L615.4 132.5L618.8 129.5L625.4 126.2L631.4 124.5L638.1 124.2L640.1 123.5L644.4 119.5L646.1 115.2L645.8 112.8L644.4 109.8L642.4 107.5L637.8 104.2L633.4 102.5L625.1 100.5L613.1 96.2L597.8 93.5L591.8 93.5L586.8 92.8L575.4 93.2L557.4 95.5L547.1 98.2L540.4 101.2L538.4 102.8Z"/>
<path fill="#15b0c8" fill-rule="evenodd" d="M698.4 114.8L693.1 108.2L690.8 106.2L677.8 105.8L663.8 106.5L662.1 107.5L661.1 109.8L660.4 115.8L660.4 134.5L661.8 141.5L662.1 154.5L663.4 160.8L665.8 166.5L665.1 166.8L661.1 165.8L621.1 166.2L628.4 169.5L637.1 175.5L640.4 179.5L640.4 182.2L638.1 186.5L631.4 193.2L624.8 197.2L615.4 200.2L603.4 201.8L591.8 201.2L578.4 197.8L569.8 193.2L566.1 189.5L564.1 185.8L564.1 180.5L566.4 176.2L569.8 172.8L575.8 168.5L582.4 165.5L574.4 165.2L563.8 163.5L547.8 163.2L544.8 163.8L536.8 164.2L518.8 168.2L513.8 170.5L508.1 174.8L501.1 182.5L491.4 196.8L487.1 205.2L486.1 208.2L485.8 211.8L486.4 214.2L489.4 218.5L492.8 221.5L500.4 226.5L509.1 230.8L519.8 235.2L532.4 238.5L541.4 238.8L553.4 237.5L570.8 233.8L589.4 228.5L598.4 227.2L601.8 226.2L617.4 226.2L632.1 228.5L644.4 231.8L653.8 235.8L657.8 238.5L665.8 242.5L673.8 247.8L679.8 250.8L692.4 254.5L698.8 255.2L702.1 251.8L703.8 243.2L703.8 239.5L705.1 229.8L705.1 222.8L706.4 218.5L706.8 213.8L706.8 183.8L703.1 175.2L697.1 170.5L703.4 166.2L705.8 161.5L703.8 134.5ZM539.1 109.5L539.4 111.8L545.4 118.5L551.8 122.8L556.4 126.8L560.8 129.5L565.4 131.2L578.1 132.5L594.1 132.5L606.4 131.2L612.8 129.8L620.8 127.2L629.4 122.8L633.1 119.5L635.1 115.8L635.1 113.5L634.4 111.5L632.8 109.2L628.1 105.2L622.1 102.2L613.4 99.5L603.4 97.5L596.4 96.8L575.4 96.8L568.4 97.5L557.8 99.5L550.4 101.8L544.4 104.5L542.4 105.8Z"/>
<path fill="#16b4bd" fill-rule="evenodd" d="M698.1 114.8L690.8 106.5L674.8 106.5L671.4 107.2L669.1 109.5L668.8 112.5L669.8 120.8L669.8 140.8L668.4 149.2L664.8 159.5L665.8 163.8L667.1 166.5L668.8 167.8L666.4 168.2L661.8 166.8L658.4 166.8L655.1 168.8L641.1 181.8L638.1 186.8L633.1 192.2L624.4 197.8L615.1 200.8L603.4 202.5L592.1 201.8L579.4 198.8L570.1 194.2L565.4 189.8L563.1 185.5L563.4 179.5L567.1 173.5L570.1 170.8L569.8 169.5L564.8 167.2L557.8 166.2L540.1 166.5L530.1 168.2L521.1 171.2L516.8 173.5L511.1 178.2L504.4 186.2L504.4 187.8L505.4 190.5L508.8 194.2L509.1 195.5L501.8 200.2L495.4 205.5L493.4 208.5L492.8 210.5L493.1 212.2L494.8 215.2L498.4 218.8L504.8 223.2L512.4 227.2L526.1 232.2L540.8 235.5L546.1 236.2L555.1 236.2L573.1 232.5L577.4 230.8L588.8 227.8L599.4 225.8L604.8 223.5L607.8 223.5L630.4 226.8L642.4 229.8L652.8 233.8L659.8 237.8L667.4 240.2L681.4 242.5L689.8 243.2L692.1 242.8L699.4 238.8L701.1 237.2L704.1 230.5L704.4 223.2L706.1 218.8L706.4 215.2L706.4 183.2L703.1 175.8L696.4 170.5L697.8 169.2L702.1 166.8L703.4 165.5L705.4 161.5L705.4 156.5L703.8 141.8L703.4 134.2ZM540.1 110.5L541.1 112.8L546.1 118.5L557.1 126.5L563.1 128.5L575.1 129.8L595.4 129.5L610.4 126.8L616.4 124.8L621.8 122.2L625.8 118.8L627.4 115.5L627.4 113.5L625.8 109.8L623.8 107.8L617.1 104.2L611.4 102.2L602.8 100.2L587.4 98.5L570.8 99.2L556.1 101.8L550.8 103.5L544.4 106.5Z"/>
<path fill="#18b8b0" fill-rule="evenodd" d="M697.4 114.2L694.1 110.2L690.4 106.8L678.4 107.2L675.1 108.5L673.1 110.8L673.1 114.2L674.8 131.5L674.4 145.2L672.8 153.2L670.8 159.2L666.8 163.2L667.8 166.5L671.1 168.5L670.4 169.2L662.8 167.8L660.1 167.8L658.8 168.5L649.8 176.5L641.8 182.5L639.4 184.8L636.4 189.2L632.4 193.2L625.4 197.8L620.8 199.8L614.4 201.5L604.8 202.8L596.8 202.8L587.8 201.5L581.1 199.8L576.4 198.2L569.8 194.5L563.4 188.2L562.1 185.2L562.1 180.2L563.8 176.8L563.4 175.2L557.8 173.5L546.1 173.8L537.8 175.8L529.8 179.8L523.8 185.8L523.8 188.2L524.8 190.2L524.1 191.5L513.8 195.8L503.8 202.2L500.4 205.5L498.1 209.8L498.1 211.5L499.8 215.2L502.4 218.2L508.4 222.5L518.8 227.5L535.8 232.5L553.4 234.8L561.1 234.2L571.4 232.2L578.4 229.8L592.4 226.5L599.4 223.8L605.8 219.5L608.4 219.5L614.8 221.5L629.8 223.8L638.4 225.8L681.8 232.8L685.1 232.8L698.1 228.8L704.1 222.2L706.1 218.5L706.4 183.8L703.1 176.2L701.1 174.2L696.1 170.8L696.8 169.5L701.8 166.8L703.4 165.2L705.4 160.8L704.1 145.5L703.4 143.2L703.1 134.2ZM544.1 113.8L544.8 115.8L547.4 118.5L555.1 123.8L564.4 126.5L575.8 127.8L593.8 127.5L606.8 125.2L611.8 123.5L616.4 121.2L620.1 117.8L621.4 114.5L619.8 110.2L616.8 107.5L612.4 105.2L603.1 102.2L587.4 100.2L573.4 100.5L564.1 101.8L557.4 103.5L553.8 104.8L547.8 108.2L544.8 111.5Z"/>
<path fill="#35c098" fill-rule="evenodd" d="M697.1 114.2L690.8 107.8L686.1 107.8L682.4 108.5L678.1 110.5L676.8 112.5L676.4 113.8L678.1 130.5L678.1 147.2L676.8 151.8L672.4 160.2L668.1 165.5L669.1 166.8L672.1 167.8L673.8 169.2L671.8 169.8L666.8 168.8L664.1 169.2L655.1 175.8L640.8 184.2L637.4 188.5L631.8 194.2L626.1 198.2L621.1 200.5L612.8 202.8L604.8 203.8L597.1 203.5L587.4 201.8L580.8 200.2L575.4 198.2L569.1 194.5L562.8 189.2L552.4 188.2L544.8 188.5L530.8 191.2L520.8 194.5L509.8 199.8L505.1 203.5L503.1 205.8L501.4 209.5L501.8 213.2L503.1 215.5L506.8 219.2L513.1 223.2L516.8 224.8L530.4 229.2L545.1 231.5L563.1 231.5L572.4 230.2L580.8 228.2L588.1 225.8L595.8 222.5L601.4 218.8L605.8 214.5L606.8 214.5L614.1 219.5L626.1 221.8L632.4 223.8L640.8 225.5L682.1 232.2L684.8 232.2L697.4 228.5L704.1 221.5L706.1 217.5L706.4 184.8L705.8 182.2L702.8 175.8L695.8 170.8L696.8 169.2L701.8 166.5L703.1 165.2L705.1 161.2L704.1 148.8L703.1 144.8L702.8 134.2ZM553.1 112.8L553.1 115.5L553.8 116.8L558.1 120.2L563.4 122.2L569.4 123.5L580.1 124.5L590.8 124.2L603.1 121.8L609.4 118.8L610.8 117.8L612.4 114.8L612.1 112.8L611.1 111.2L606.4 108.2L599.1 105.8L590.1 104.5L575.1 104.5L566.4 105.8L558.1 108.5L555.4 110.2Z"/>
<path fill="#5cc47c" fill-rule="evenodd" d="M503.4 209.8L503.4 211.5L505.1 215.5L508.1 218.5L515.4 222.8L523.4 225.8L531.4 227.8L547.8 229.8L553.8 229.8L564.1 228.8L580.1 225.2L588.1 221.8L594.1 217.8L596.4 214.8L597.8 211.8L597.4 208.8L596.1 206.2L593.8 203.8L586.8 202.5L576.4 199.2L569.4 195.5L565.1 192.2L551.8 190.8L543.1 191.2L535.1 192.2L521.8 195.5L513.4 199.2L508.8 202.2L505.1 205.8ZM703.1 148.2L701.8 147.8L689.1 152.8L678.8 158.2L672.4 162.2L669.4 165.8L675.4 168.5L675.4 169.8L668.8 170.2L666.1 169.5L657.4 175.8L640.4 185.5L636.8 190.2L630.1 196.2L626.8 201.8L625.1 207.5L624.8 212.5L625.8 215.8L627.4 218.5L631.8 222.5L638.4 224.5L681.8 231.8L684.8 231.8L697.4 228.2L705.1 219.8L705.8 218.5L706.1 214.2L706.1 183.5L702.8 176.2L695.4 170.8L696.4 169.2L701.8 166.2L703.1 164.8L704.4 162.2L704.8 157.8L704.1 156.5ZM682.1 111.8L680.8 113.2L680.8 116.8L682.4 128.5L682.8 136.2L686.1 138.8L689.8 139.8L699.8 139.8L701.8 138.8L702.1 135.2L700.1 127.8L699.4 122.5L697.1 114.8L692.1 109.8L686.8 110.2ZM562.4 114.2L562.8 115.5L564.1 116.8L566.8 118.2L573.1 119.8L580.1 120.5L589.8 120.2L595.4 119.2L600.8 117.2L602.8 115.2L602.8 113.5L601.1 111.8L598.4 110.5L589.1 108.5L576.1 108.5L571.8 109.2L564.8 111.5L562.8 113.2Z"/>
<path fill="#8cc55c" fill-rule="evenodd" d="M505.8 210.5L506.8 213.8L510.8 217.8L517.4 221.5L529.1 225.2L541.4 226.8L553.8 226.5L568.1 223.5L575.8 220.5L581.1 217.2L584.1 213.8L585.1 211.8L585.1 210.2L584.1 207.8L580.8 204.2L571.8 199.2L562.8 196.2L555.8 194.8L548.1 194.2L535.4 194.8L528.4 196.2L520.4 198.5L515.1 200.8L510.8 203.5L507.1 207.2ZM704.1 158.5L703.4 158.2L698.4 159.5L688.8 163.2L678.1 168.2L675.4 170.8L672.8 170.8L667.8 172.8L653.4 180.8L643.4 187.8L635.8 195.2L630.8 203.2L629.4 207.2L629.1 212.8L629.8 215.2L631.8 218.5L636.4 222.8L639.8 224.2L650.8 226.5L681.1 231.5L685.4 231.5L697.1 228.2L703.8 221.2L705.8 218.2L706.1 184.2L702.8 176.5L701.1 174.8L696.1 171.8L695.1 170.2L702.8 164.8L704.4 160.8ZM698.1 122.2L696.4 115.8L695.4 114.8L693.1 114.5L688.4 115.2L685.4 116.5L684.4 117.8L684.8 120.2L688.1 121.8L691.1 122.5ZM574.4 114.2L575.1 115.2L580.1 116.2L585.1 116.2L590.8 114.8L590.1 113.5L585.1 112.5L577.4 112.8Z"/>
<path fill="#b8c040" fill-rule="evenodd" d="M508.4 209.5L508.4 212.2L509.4 213.8L513.4 217.5L517.1 219.5L526.8 222.8L540.1 224.8L552.8 224.2L566.1 220.8L571.8 218.2L575.4 215.5L577.1 213.5L578.1 210.8L576.8 207.5L574.4 205.2L569.4 202.2L558.8 198.5L548.4 196.8L538.1 196.8L532.4 197.5L523.8 199.5L516.8 202.2L512.8 204.5L509.8 207.2ZM702.4 163.2L688.4 167.8L668.1 176.5L654.8 183.8L645.4 190.2L637.1 198.5L633.1 205.5L632.1 209.8L632.1 212.5L633.4 216.2L635.4 218.8L640.8 223.2L644.8 224.8L682.4 231.5L684.4 231.5L697.1 227.8L705.1 219.2L705.8 214.8L705.8 183.5L702.1 175.8L694.8 170.8L694.8 169.8L695.8 168.8L701.1 165.8L702.1 164.8Z"/>
<path fill="#e0b838" fill-rule="evenodd" d="M510.4 209.8L510.4 211.8L511.4 213.5L513.8 215.8L519.4 218.8L528.4 221.5L538.1 222.8L547.8 222.5L558.1 220.5L567.4 216.5L570.4 214.2L571.8 211.8L571.8 209.8L570.8 207.8L567.1 204.8L563.1 202.8L557.1 200.8L545.8 198.8L533.4 199.2L522.8 201.5L514.1 205.5L512.1 207.2ZM702.4 176.5L699.4 174.2L695.1 171.8L694.1 170.5L694.1 169.5L687.1 172.2L684.1 172.8L671.8 178.5L670.1 178.8L656.1 186.2L646.1 193.2L640.1 199.2L637.8 202.5L636.1 205.8L635.1 210.2L635.1 212.2L636.4 215.8L639.1 219.2L645.1 223.5L650.1 225.5L681.8 231.2L685.1 231.2L696.8 227.8L702.8 221.8L705.4 218.2L705.8 183.8Z"/>
<path fill="#f8b43e" fill-rule="evenodd" d="M512.8 209.8L512.8 211.8L515.1 214.5L520.8 217.5L527.8 219.5L540.1 220.8L551.1 219.5L557.1 217.8L562.8 215.2L564.8 213.5L566.1 210.8L565.1 208.5L563.4 206.8L558.4 204.2L552.1 202.2L543.1 200.8L532.4 201.2L523.1 203.2L517.4 205.5L515.4 206.8ZM702.4 176.8L697.8 173.5L694.4 172.5L674.4 180.2L664.4 184.8L656.1 189.5L647.1 196.2L642.8 200.5L640.4 203.8L638.4 209.8L638.4 212.5L639.4 215.2L642.1 218.5L648.8 223.2L652.1 224.8L658.8 226.8L683.1 231.2L696.4 227.8L704.8 219.2L705.4 216.8L705.8 185.5L705.1 182.5Z"/>
<path fill="#fcc830" fill-rule="evenodd" d="M517.8 209.8L517.8 211.5L518.4 212.5L522.4 214.8L533.4 217.2L544.8 217.2L551.4 216.2L556.8 214.5L558.8 213.5L560.8 211.5L560.1 208.8L555.8 206.2L549.1 204.2L540.8 203.2L533.8 203.5L525.4 205.2L520.1 207.5ZM702.8 177.8L701.1 175.8L698.4 174.5L696.1 174.5L675.8 182.2L659.1 190.5L650.1 196.8L644.1 203.5L641.8 209.5L641.8 212.8L642.8 215.2L646.1 218.8L651.1 222.2L659.8 226.2L666.1 227.8L684.4 230.8L697.1 227.2L705.1 218.2L705.4 184.2Z"/>
<path fill="#f5e025" fill-rule="evenodd" d="M524.8 210.5L525.4 211.5L528.1 212.5L536.1 213.8L546.4 213.5L551.4 212.5L554.8 210.8L554.1 209.8L550.8 208.5L542.8 207.2L536.4 207.2L531.8 207.8L526.8 209.2ZM702.4 177.8L700.4 176.2L698.8 176.2L689.1 179.5L669.8 187.5L657.4 194.5L651.1 199.5L647.4 203.8L645.1 209.8L645.1 212.5L646.4 215.5L650.8 219.5L658.8 223.8L665.4 226.5L673.8 228.8L684.8 230.5L697.1 226.8L704.8 218.2L705.1 183.8Z"/>
<path fill="#f9fb15" fill-rule="evenodd" d="M702.4 179.2L701.1 178.2L686.1 183.2L674.8 187.8L661.8 194.5L653.4 200.8L650.1 204.8L648.1 209.8L648.1 212.5L648.8 214.2L652.1 217.8L655.1 219.8L667.8 225.5L677.4 228.5L685.1 229.8L696.4 226.5L704.4 217.5L704.8 184.5Z"/></g>
<g stroke="#262626" stroke-opacity="0.15" stroke-width="1"><line x1="457.40" y1="21.00" x2="457.40" y2="304.40"/><line x1="514.20" y1="21.00" x2="514.20" y2="304.40"/><line x1="571.00" y1="21.00" x2="571.00" y2="304.40"/><line x1="627.80" y1="21.00" x2="627.80" y2="304.40"/><line x1="400.60" y1="91.85" x2="684.60" y2="91.85"/><line x1="400.60" y1="233.55" x2="684.60" y2="233.55"/></g>
<line x1="400.60" y1="162.70" x2="684.60" y2="162.70" stroke="#111" stroke-width="1.3"/>
<path d="M457.40 21.00V24.00M457.40 304.40V301.40M514.20 21.00V24.00M514.20 304.40V301.40M571.00 21.00V24.00M571.00 304.40V301.40M627.80 21.00V24.00M627.80 304.40V301.40M400.60 91.85H403.60M684.60 91.85H681.60M400.60 162.70H403.60M684.60 162.70H681.60M400.60 233.55H403.60M684.60 233.55H681.60" stroke="#262626" stroke-width="1.2" fill="none"/>
<path d="M400.60 21.00H684.60M400.60 304.40H684.60M684.60 21.00V304.40" stroke="#404040" stroke-width="1.4" fill="none"/>
<line x1="400.60" y1="21.00" x2="400.60" y2="304.40" stroke="#404040" stroke-width="1.4"/>
<text transform="translate(543.20 44.40) scale(0.934 1)" font-size="21.8" text-anchor="middle" fill="#000">Simulation</text>
<clipPath id="clipd"><rect x="400.60" y="337.80" width="284.00" height="283.40"/></clipPath>
<g clip-path="url(#clipd)"><path fill="#d3e3fc" fill-rule="evenodd" d="M695.8 321.0L694.8 320.3L685.1 321.0L678.1 322.6L673.8 325.6L672.1 329.0L673.1 344.0L675.1 354.0L676.8 367.0L677.1 375.3L677.8 378.6L678.1 392.6L677.4 402.6L675.4 411.6L672.1 416.3L667.8 420.0L662.4 422.0L656.4 422.6L647.8 421.3L638.4 418.6L625.4 413.6L621.1 411.3L615.4 409.3L589.1 397.3L581.4 394.6L567.4 387.6L562.4 384.0L552.4 378.6L546.8 377.3L542.4 377.6L529.4 383.0L521.1 387.3L516.4 391.0L507.8 399.6L503.8 405.3L500.1 413.0L492.8 438.6L487.4 448.0L478.4 457.6L472.4 462.3L445.4 476.6L444.4 478.3L449.8 481.6L465.8 489.0L473.8 494.3L482.1 502.0L493.1 516.3L497.4 519.6L502.1 522.0L516.1 524.3L537.8 525.6L574.1 525.0L610.1 530.3L628.4 532.0L637.1 532.0L649.8 533.6L658.1 536.0L667.4 540.3L674.8 545.3L680.1 551.0L682.8 556.0L685.8 558.6L693.4 563.0L699.1 565.0L700.1 564.6L704.8 552.6L709.4 510.0L711.1 475.3L710.1 445.6L710.1 410.6L707.8 366.0L702.8 335.6Z"/>
<path fill="#a6c7fa" fill-rule="evenodd" d="M694.8 322.6L694.1 322.0L693.1 322.0L690.1 323.6L687.8 326.3L685.1 331.6L683.1 342.6L683.1 362.6L681.4 389.6L679.8 403.0L677.4 412.6L674.8 418.6L671.8 423.3L667.4 427.0L661.4 430.3L654.4 432.0L650.4 432.0L640.1 430.6L623.1 427.3L604.4 422.6L590.4 418.3L567.4 409.6L559.8 407.6L551.1 404.3L541.8 404.0L537.1 405.0L528.4 408.3L521.8 411.6L514.1 418.3L505.8 428.3L499.4 434.6L490.4 448.3L483.8 456.6L472.8 467.3L463.1 474.6L461.4 477.3L461.4 479.0L462.1 480.3L465.1 483.3L472.8 489.3L484.1 500.3L490.1 508.6L495.1 514.3L498.4 516.6L503.8 519.0L517.4 521.0L539.1 522.6L579.4 522.6L622.4 527.0L651.4 530.6L660.8 533.0L670.1 536.6L698.1 553.0L698.8 552.6L704.1 542.3L706.4 530.3L709.1 510.0L709.1 503.6L710.8 480.6L710.8 468.3L709.8 457.0L709.1 412.0L708.4 409.3L706.1 365.3L701.1 336.0Z"/>
<path fill="#7aabf8" fill-rule="evenodd" d="M471.1 477.0L471.1 480.3L473.8 485.3L480.1 493.0L496.8 510.3L502.8 514.0L511.8 516.3L531.1 518.0L565.8 518.0L579.8 518.6L604.4 521.0L652.1 524.3L665.8 526.6L671.8 529.0L680.4 533.6L686.1 535.6L694.4 537.6L700.1 538.3L704.8 531.6L706.8 519.6L708.4 513.0L710.8 474.0L708.8 444.6L708.1 439.6L705.1 427.6L700.8 421.3L690.8 422.0L686.8 423.0L683.8 424.6L682.4 426.3L675.8 439.3L670.4 445.0L665.1 448.6L658.1 451.6L652.8 452.6L645.8 452.6L607.8 444.3L588.4 441.6L572.8 437.6L566.1 434.0L564.1 431.3L562.1 427.0L557.1 422.6L552.4 421.0L545.8 420.6L540.8 422.6L538.8 424.6L537.1 427.3L536.1 431.0L533.4 433.6L510.1 443.3L503.1 447.0L495.4 452.0L472.8 473.6Z"/>
<path fill="#4d8ff6" fill-rule="evenodd" d="M710.4 468.3L709.8 459.3L708.8 455.6L708.4 451.6L705.8 442.0L703.8 438.6L700.1 435.0L692.8 435.3L685.8 437.0L683.4 438.3L674.8 447.6L670.1 451.6L662.1 455.0L655.1 456.3L643.8 455.6L610.8 449.6L584.4 446.6L568.1 444.0L551.8 440.3L536.1 440.3L528.4 441.0L519.4 442.6L507.8 446.6L500.1 451.0L495.4 454.6L491.1 459.0L480.8 470.6L478.1 475.0L477.4 480.3L479.1 484.0L491.8 499.6L495.8 503.6L500.8 507.6L505.4 510.0L513.4 512.3L520.8 513.3L532.8 514.0L551.8 514.0L566.1 513.0L587.4 513.0L644.8 517.0L654.1 518.3L661.1 520.0L670.8 524.0L681.1 527.0L694.4 529.0L698.1 529.0L701.4 526.6L704.4 523.6L707.8 514.6L708.8 509.0L709.1 497.6L709.8 494.3Z"/>
<path fill="#2f83f4" fill-rule="evenodd" d="M710.4 469.3L709.4 458.6L707.1 451.0L704.8 447.0L702.8 445.0L700.4 443.6L693.4 444.0L688.1 445.0L682.4 447.6L677.4 452.0L671.1 455.3L662.8 458.0L657.4 458.6L647.8 458.6L612.1 454.3L566.1 450.0L541.8 446.6L526.8 446.6L517.8 448.0L509.1 450.3L501.8 453.6L495.8 457.6L489.8 463.3L483.1 472.0L481.8 475.6L481.8 480.3L486.4 487.3L496.1 497.6L508.4 507.0L514.4 509.3L527.4 511.3L543.1 511.6L581.1 508.0L600.1 507.3L637.4 508.0L653.1 510.0L661.1 512.3L676.4 519.3L683.8 523.3L692.8 525.0L699.8 525.3L701.1 524.6L705.4 519.6L708.1 512.0L709.4 496.0Z"/>
<path fill="#2a90e5" fill-rule="evenodd" d="M710.4 472.3L709.4 459.3L705.8 449.6L701.8 446.3L695.4 447.0L684.1 450.0L669.4 457.0L659.4 459.3L646.8 459.3L640.4 458.3L625.8 457.3L614.1 455.6L592.4 454.0L571.8 451.6L560.1 451.3L550.4 450.3L527.1 450.3L523.1 450.6L519.8 452.0L488.4 475.3L484.1 479.3L484.1 480.0L487.4 483.3L513.8 503.3L521.1 508.3L524.1 509.6L549.1 509.6L609.4 501.6L639.4 502.0L658.8 505.0L691.4 517.3L699.4 519.6L703.1 519.6L705.1 518.3L707.1 514.3L708.1 510.3L709.4 495.3Z"/>
<path fill="#1fa0da" fill-rule="evenodd" d="M710.1 468.3L709.1 458.6L705.8 451.3L704.8 450.0L703.8 449.6L696.4 450.3L691.8 451.6L686.8 452.3L676.1 455.3L668.1 458.3L657.4 460.3L646.4 460.0L612.8 457.0L546.1 452.6L524.4 453.0L519.8 455.0L489.4 477.6L487.8 479.3L487.8 480.3L522.4 506.6L526.4 508.0L546.8 508.0L608.1 498.3L638.8 498.6L659.8 502.0L686.8 512.3L699.4 515.6L705.1 515.6L706.1 515.0L707.4 512.3L708.1 509.3L708.1 504.0L708.8 502.3L708.8 496.6L709.8 488.0Z"/>
<path fill="#15b0c8" fill-rule="evenodd" d="M710.1 469.3L709.1 459.0L706.4 453.6L705.1 452.6L698.4 453.0L687.8 455.0L660.8 462.0L638.4 461.3L549.1 455.3L528.8 455.3L522.8 456.0L518.1 458.6L492.8 477.6L491.1 479.3L491.1 480.3L523.8 505.0L526.8 506.0L547.1 506.0L607.4 496.3L639.4 496.6L659.4 499.0L686.8 509.3L699.8 512.6L706.1 512.6L707.8 509.3L707.8 505.3L708.8 500.3L710.1 479.3Z"/>
<path fill="#16b4bd" fill-rule="evenodd" d="M710.1 472.0L709.1 459.6L708.4 458.0L705.8 454.6L701.4 454.6L688.4 457.0L659.8 464.6L640.8 464.0L579.4 459.6L547.8 458.3L528.8 458.3L522.8 458.6L519.1 460.3L494.1 479.3L494.1 480.3L520.8 500.6L525.8 503.6L528.8 504.3L545.8 504.3L574.8 499.3L609.1 494.3L640.1 494.6L658.8 496.6L688.1 506.6L699.8 509.6L706.1 509.6L707.1 509.0L707.8 503.6L708.4 502.3Z"/>
<path fill="#18b8b0" fill-rule="evenodd" d="M710.1 472.6L708.8 459.0L706.4 456.6L698.8 457.0L686.8 459.3L659.8 467.6L608.8 466.6L546.8 460.3L528.1 460.3L521.1 461.0L517.4 463.0L496.1 479.3L496.1 480.3L519.8 498.3L523.8 500.6L526.1 501.3L545.4 501.6L580.8 494.6L602.8 492.0L607.4 491.0L639.4 491.6L658.8 493.6L684.8 502.6L699.1 505.6L706.4 505.6L707.1 505.3L708.4 500.6Z"/>
<path fill="#35c098" fill-rule="evenodd" d="M709.8 469.0L708.8 459.3L707.1 457.6L699.1 458.0L684.8 461.0L659.4 470.3L656.4 471.0L607.8 471.6L592.4 468.6L583.1 467.6L558.4 463.6L545.8 462.3L533.1 462.3L520.4 463.3L502.8 475.0L499.8 477.3L497.8 480.0L500.1 482.6L507.8 488.3L513.4 491.6L521.8 497.6L524.4 498.6L541.4 499.3L546.1 499.0L567.4 495.3L580.1 492.3L595.8 490.3L605.8 488.0L612.4 487.6L640.8 488.6L656.4 490.3L660.8 491.3L665.1 493.6L685.4 500.6L699.4 503.3L706.8 503.3L708.1 501.6L709.8 480.3Z"/>
<path fill="#5cc47c" fill-rule="evenodd" d="M709.8 469.6L708.4 459.0L706.8 458.0L699.8 458.3L685.4 461.3L662.8 470.0L655.4 474.3L633.8 476.0L607.4 476.3L600.4 472.6L590.1 469.6L587.8 469.6L557.8 464.6L547.1 464.3L533.1 465.6L519.4 468.3L510.8 471.3L505.4 474.0L500.8 477.3L499.1 480.0L499.8 481.3L502.8 484.0L507.4 487.3L512.4 490.0L524.4 494.0L540.4 496.6L553.8 497.0L582.4 491.0L595.8 489.0L601.8 487.0L608.1 483.3L631.4 483.3L654.8 485.0L657.1 486.0L664.4 492.0L681.8 499.0L697.4 502.0L706.8 502.3L707.8 501.3L708.1 496.6L708.8 495.0Z"/>
<path fill="#8cc55c" fill-rule="evenodd" d="M500.4 479.0L500.4 480.6L502.4 483.0L507.8 486.6L512.8 489.0L522.4 492.0L530.1 493.6L542.8 495.3L558.4 495.0L578.8 491.0L590.4 487.0L595.1 484.0L597.8 480.6L597.8 479.3L595.8 476.6L587.1 472.3L570.8 468.3L553.4 466.3L544.1 466.3L536.1 467.0L521.8 469.3L508.4 473.3L503.1 476.3ZM708.4 459.3L707.1 458.3L697.4 459.0L685.8 461.6L675.8 465.3L666.8 469.6L655.8 479.3L655.8 480.0L670.1 493.0L672.8 494.6L681.4 498.3L691.4 500.3L707.1 500.6L707.8 499.3L708.8 493.0L709.8 473.6Z"/>
<path fill="#b8c040" fill-rule="evenodd" d="M501.4 479.0L501.4 480.6L504.4 483.6L508.1 485.6L514.4 488.0L529.8 491.3L544.8 492.6L558.4 491.6L572.8 489.0L579.4 487.0L584.8 484.6L587.4 483.0L589.8 480.3L589.4 478.6L586.8 476.3L581.4 473.6L577.4 472.3L564.4 469.3L549.4 467.6L537.4 468.0L520.1 470.6L508.1 474.3L503.8 476.6ZM708.4 459.6L707.4 458.6L699.1 459.0L688.4 461.3L682.1 463.3L673.8 467.6L660.8 479.3L660.8 480.0L663.1 482.6L675.1 493.3L681.4 497.6L686.8 498.6L707.1 498.6L708.4 494.6L709.4 480.6L709.4 468.6Z"/>
<path fill="#e0b838" fill-rule="evenodd" d="M502.1 479.6L502.4 480.6L506.1 483.6L516.4 487.3L528.8 489.6L543.8 490.6L558.1 489.3L569.1 487.0L578.4 483.3L581.8 480.3L581.8 479.3L579.4 477.0L572.1 473.6L559.1 470.6L548.1 469.3L536.1 469.3L519.8 471.6L508.4 475.0L504.1 477.3ZM708.1 459.3L698.8 459.3L688.4 461.6L683.8 463.3L679.4 466.0L667.1 477.0L665.1 479.3L665.1 480.3L679.8 494.0L683.8 496.6L707.1 496.6L708.1 495.0L709.4 474.6L709.1 465.6Z"/>
<path fill="#f8b43e" fill-rule="evenodd" d="M504.1 479.6L505.8 481.6L513.1 484.6L521.8 486.6L532.4 488.0L545.4 488.0L558.4 486.3L568.1 483.6L572.1 481.6L573.4 480.0L573.1 479.0L570.8 477.0L563.8 474.3L552.8 472.0L542.8 471.0L530.8 471.3L518.4 473.3L508.8 476.3L505.1 478.3ZM707.8 459.3L701.4 459.3L696.4 460.0L687.4 463.0L672.4 476.0L669.1 479.3L669.1 480.3L684.8 494.3L707.4 494.6L708.8 488.3L709.4 473.6L708.4 461.3Z"/>
<path fill="#fcc830" fill-rule="evenodd" d="M515.4 479.0L515.4 480.3L516.8 481.6L519.8 483.0L526.8 485.0L533.8 486.0L545.8 486.0L550.8 485.3L560.8 482.6L562.8 481.6L564.4 480.0L564.1 479.0L562.1 477.3L557.1 475.3L544.1 473.0L535.4 473.0L526.4 474.3L518.1 477.0ZM707.4 459.6L698.8 460.0L692.1 462.0L672.8 479.3L673.1 480.6L686.8 492.6L707.4 492.6L708.1 491.6L708.8 487.0L709.1 469.3L708.1 461.0Z"/>
<path fill="#f5e025" fill-rule="evenodd" d="M524.4 479.6L524.4 480.3L526.4 481.3L535.1 483.3L547.1 483.0L553.4 481.3L555.4 480.0L555.1 479.3L551.8 478.0L541.1 476.3L530.8 477.3L526.1 478.6ZM707.4 461.0L702.4 460.6L696.1 461.3L677.8 477.3L676.1 479.3L676.1 480.3L677.8 482.3L688.1 491.0L707.8 491.0L708.4 488.0L708.8 468.6Z"/>
<path fill="#f9fb15" fill-rule="evenodd" d="M680.1 479.3L680.1 480.3L689.8 489.0L707.1 489.3L708.1 486.3L708.4 469.6L707.4 464.0L696.8 464.3Z"/></g>
<g stroke="#262626" stroke-opacity="0.15" stroke-width="1"><line x1="457.40" y1="337.80" x2="457.40" y2="621.20"/><line x1="514.20" y1="337.80" x2="514.20" y2="621.20"/><line x1="571.00" y1="337.80" x2="571.00" y2="621.20"/><line x1="627.80" y1="337.80" x2="627.80" y2="621.20"/><line x1="400.60" y1="408.65" x2="684.60" y2="408.65"/><line x1="400.60" y1="550.35" x2="684.60" y2="550.35"/></g>
<line x1="400.60" y1="479.50" x2="684.60" y2="479.50" stroke="#111" stroke-width="1.3"/>
<path d="M457.40 337.80V340.80M457.40 621.20V618.20M514.20 337.80V340.80M514.20 621.20V618.20M571.00 337.80V340.80M571.00 621.20V618.20M627.80 337.80V340.80M627.80 621.20V618.20M400.60 408.65H403.60M684.60 408.65H681.60M400.60 479.50H403.60M684.60 479.50H681.60M400.60 550.35H403.60M684.60 550.35H681.60" stroke="#262626" stroke-width="1.2" fill="none"/>
<path d="M400.60 337.80H684.60M400.60 621.20H684.60M684.60 337.80V621.20" stroke="#404040" stroke-width="1.4" fill="none"/>
<line x1="400.60" y1="337.80" x2="400.60" y2="621.20" stroke="#404040" stroke-width="1.4"/>
<text transform="translate(543.20 361.20) scale(0.934 1)" font-size="21.8" text-anchor="middle" fill="#000">Simulation</text>
<text transform="translate(457.90 644.90) scale(0.886 1)" font-size="20.5" text-anchor="middle" fill="#262626">2.04</text>
<text transform="translate(514.70 644.90) scale(0.886 1)" font-size="20.5" text-anchor="middle" fill="#262626">2.05</text>
<text transform="translate(571.50 644.90) scale(0.886 1)" font-size="20.5" text-anchor="middle" fill="#262626">2.06</text>
<text transform="translate(628.30 644.90) scale(0.886 1)" font-size="20.5" text-anchor="middle" fill="#262626">2.07</text>
<text x="108.8" y="14.6" font-size="26.5" font-weight="bold" fill="#000">a</text>
<text x="108.8" y="331.2" font-size="26.5" font-weight="bold" fill="#000">b</text>
<text x="400.3" y="14.6" font-size="26.5" font-weight="bold" fill="#000">c</text>
<text x="400.3" y="331.2" font-size="26.5" font-weight="bold" fill="#000">d</text>
<text transform="translate(51.5 160.0) rotate(-90)" font-size="20" text-anchor="middle" fill="#262626"><tspan font-style="italic">ħω</tspan><tspan font-size="13" dy="5">2</tspan><tspan dy="-5"> (eV)</tspan></text>
<text transform="translate(51.5 476.8) rotate(-90)" font-size="20" text-anchor="middle" fill="#262626"><tspan font-style="italic">ħω</tspan><tspan font-size="13" dy="5">2</tspan><tspan dy="-5"> (eV)</tspan></text>
<text x="254.1" y="668" font-size="20" text-anchor="middle" fill="#262626"><tspan font-style="italic">ħω</tspan><tspan font-size="13" dy="5">3</tspan><tspan dy="-5"> (eV)</tspan></text>
<text x="545.6" y="668" font-size="20" text-anchor="middle" fill="#262626"><tspan font-style="italic">ħω</tspan><tspan font-size="13" dy="5">3</tspan><tspan dy="-5"> (eV)</tspan></text>
<path d="M9 110.3V128.7M9 139.0V157.6M-0.5 148.3H18.6M9 168.5V186.9M9 197.3V215.9M-0.5 206.6H18.6" stroke="#000" stroke-width="1.9" fill="none"/>
<path d="M9 426.9V445.3M9 455.9V474.3M9 484.4V503.0M-0.5 493.7H18.6M9 513.4V532.0M-0.5 522.7H18.6" stroke="#000" stroke-width="1.9" fill="none"/>
<defs><linearGradient id="cbg" x1="0" x2="1" y1="0" y2="0"><stop offset="0.000" stop-color="#ffffff"/><stop offset="0.249" stop-color="#2f80f7"/><stop offset="0.305" stop-color="#2c8ae8"/><stop offset="0.350" stop-color="#2596e0"/><stop offset="0.414" stop-color="#1fa8dc"/><stop offset="0.477" stop-color="#0fbcc0"/><stop offset="0.559" stop-color="#3ec68f"/><stop offset="0.640" stop-color="#6ac86a"/><stop offset="0.706" stop-color="#a8c448"/><stop offset="0.771" stop-color="#d0bc38"/><stop offset="0.836" stop-color="#f8b43e"/><stop offset="0.885" stop-color="#fcc830"/><stop offset="0.942" stop-color="#f5e025"/><stop offset="1.000" stop-color="#f7f71a"/></linearGradient></defs>
<rect x="130.1" y="555.7" width="56" height="19" fill="url(#cbg)" stroke="#262626" stroke-width="1.3"/>
<path d="M158.1 555.7v2.5M158.1 574.7v-2.5" stroke="#262626" stroke-width="1.2"/>
<text x="128.2" y="594.8" font-size="20.3" text-anchor="middle" fill="#262626">0.1</text>
<text x="187.4" y="594.8" font-size="20.3" text-anchor="middle" fill="#262626">1</text>
<text x="123.3" y="610.5" font-size="14.4" fill="#262626">Norm. Amp.</text>
</svg>
</body></html>
